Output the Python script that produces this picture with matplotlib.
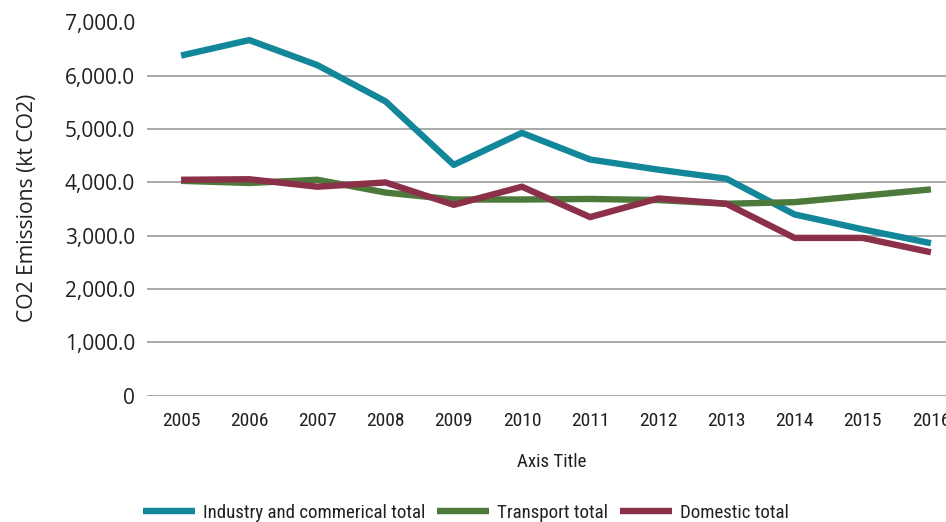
import matplotlib
matplotlib.use("Agg")
import matplotlib.pyplot as plt
from matplotlib import font_manager

years = ["2005", "2006", "2007", "2008", "2009", "2010",
         "2011", "2012", "2013", "2014", "2015", "2016"]
industry = [6380, 6670, 6200, 5520, 4330, 4930, 4430, 4240, 4070, 3400, 3120, 2860]
transport = [4030, 3990, 4050, 3810, 3680, 3680, 3690, 3670, 3600, 3630, 3750, 3870]
domestic = [4050, 4060, 3920, 4000, 3580, 3920, 3350, 3700, 3600, 2960, 2960, 2690]

series_names = ["Industry and commerical total", "Transport total", "Domestic total"]
colors = ["#12879a", "#4c7a3a", "#8b3049"]
yticks = [0, 1000, 2000, 3000, 4000, 5000, 6000, 7000]

installed = {f.name for f in font_manager.fontManager.ttflist}
narrow = "Roboto Condensed" if "Roboto Condensed" in installed else "DejaVu Sans"
regular = "Open Sans" if "Open Sans" in installed else "DejaVu Sans"
text_col = "#231f20"

fig = plt.figure(figsize=(9.46, 5.22), dpi=100)
W, H = 946, 522
ax = fig.add_axes([147 / W, 1 - 395.7 / H, 818 / W, (395.7 - 22.5) / H])

x = list(range(len(years)))
for vals, name, c in zip([industry, transport, domestic], series_names, colors):
    ax.plot(x, vals, color=c, lw=4.6, label=name,
            solid_capstyle="butt", solid_joinstyle="round")

ax.set_xlim(-0.5, len(years) - 0.5)
ax.set_ylim(0, 7000)
ax.set_yticks(yticks)
ax.set_yticklabels(["0" if v == 0 else f"{v:,.1f}" for v in yticks],
                   fontsize=15, family=regular, color=text_col)
ax.set_xticks(x)
ax.set_xticklabels(years, fontsize=14, family=narrow, color=text_col)
ax.tick_params(axis="y", length=0, pad=8.5)
ax.tick_params(axis="x", length=0, pad=12)
ax.grid(axis="y", color="#9a9a9a", lw=1.2)
ax.set_axisbelow(True)
for s in ax.spines.values():
    s.set_visible(False)

fig.text(27.5 / W, 1 - 207.5 / H, "CO2 Emissions (kt CO2)", rotation=90,
         ha="center", va="center", fontsize=15.2, family=regular, color=text_col)
fig.text(552 / W, 1 - 462 / H, "Axis Title", ha="center", va="center",
         fontsize=13.6, family=narrow, color=text_col)

leg = fig.legend(loc="center", bbox_to_anchor=(466 / W, 1 - 513 / H), ncol=3,
                 frameon=False, prop={"family": narrow, "size": 13.6},
                 handlelength=2.75, handletextpad=0.45, columnspacing=0.6,
                 borderpad=0, borderaxespad=0)
for t in leg.get_texts():
    t.set_color(text_col)
for h in leg.get_lines():
    h.set_linewidth(4.6)

fig.savefig("out.png", dpi=100)
